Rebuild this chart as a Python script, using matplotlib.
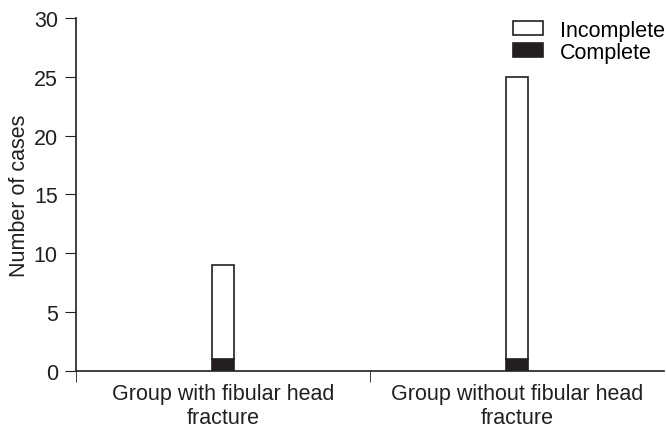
import matplotlib.pyplot as plt
import numpy as np

plt.rcParams['font.family'] = ['Liberation Sans', 'DejaVu Sans']

groups = ['Group with fibular head\nfracture', 'Group without fibular head\nfracture']
complete = [1, 1]
incomplete = [8, 24]
yticks = [0, 5, 10, 15, 20, 25, 30]

fig = plt.figure(figsize=(6.66, 4.31), dpi=100)
ax = fig.add_axes([0.114, 0.137, 0.883, 0.819])

x = np.arange(len(groups))
w = 0.075
ax.bar(x, complete, w, color='#231f20', edgecolor='#231f20', linewidth=1.2, label='Complete')
ax.bar(x, incomplete, w, bottom=complete, color='white', edgecolor='#231f20',
       linewidth=1.2, label='Incomplete')

fs = 15.5
ax.set_xlim(-0.5, 1.5)
ax.set_ylim(0, 30)
ax.set_yticks(yticks)
ax.set_xticks(x)
ax.set_xticklabels(groups, fontsize=fs, color='#231f20', linespacing=1.15)
ax.tick_params(axis='x', length=0, pad=9)
ax.set_xticks([-0.5, 0.5], minor=True)
ax.tick_params(axis='x', which='minor', length=8, direction='out', color='#231f20')
ax.tick_params(axis='y', labelsize=fs, length=8, direction='out', colors='#231f20', pad=5)
ax.set_ylabel('Number of cases', fontsize=fs, color='#231f20', labelpad=3)

for s in ['top', 'right']:
    ax.spines[s].set_visible(False)
for s in ['left', 'bottom']:
    ax.spines[s].set_color('#231f20')
    ax.spines[s].set_linewidth(1.2)

h, l = ax.get_legend_handles_labels()
ax.legend(h[::-1], l[::-1], loc='upper right', frameon=False, fontsize=fs,
          bbox_to_anchor=(1.035, 1.05), handlelength=1.4, handleheight=0.65,
          labelspacing=0.05, handletextpad=0.8)

fig.savefig('out.png', dpi=100)
